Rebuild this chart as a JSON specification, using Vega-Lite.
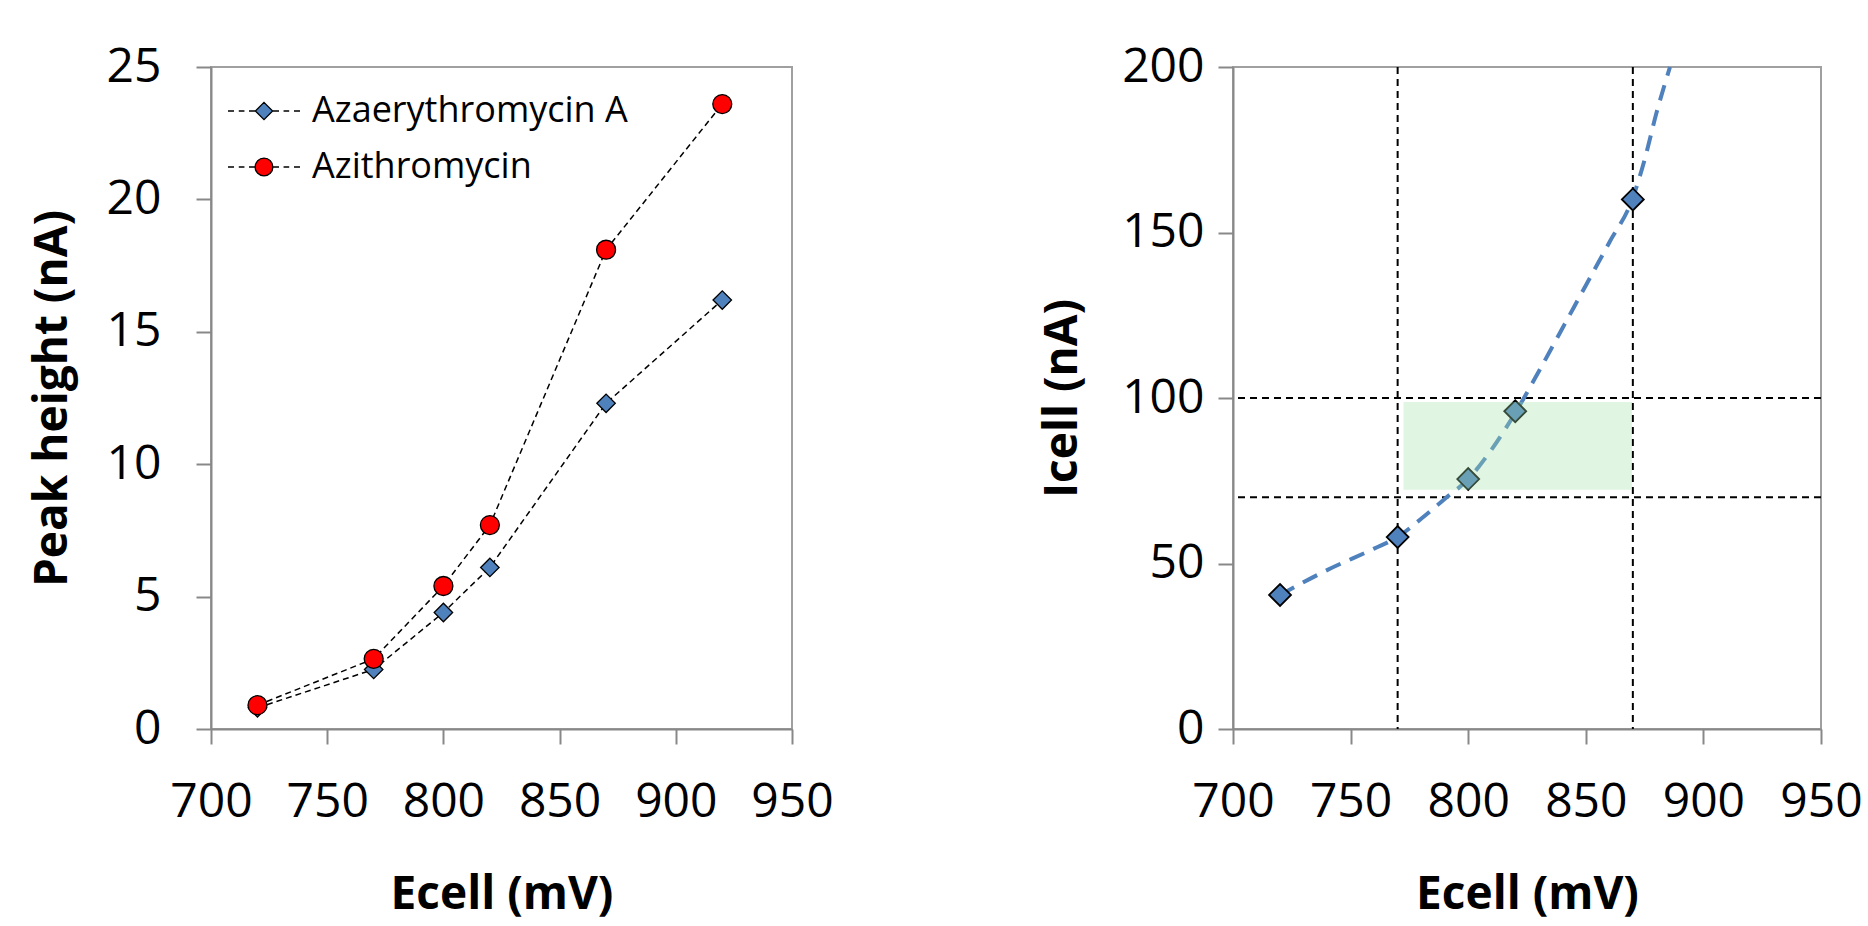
{
  "$schema": "https://vega.github.io/schema/vega-lite/v6.json",
  "background": "white",
  "padding": {"left": 28, "top": 42, "right": 5, "bottom": 5},
  "config": {
    "view": {"stroke": "#a0a0a0", "strokeWidth": 2},
    "axis": {
      "grid": false,
      "domainColor": "#888888", "domainWidth": 2,
      "tickColor": "#888888", "tickWidth": 2, "tickSize": 15,
      "labelFont": "Open Sans", "labelFontSize": 48, "labelColor": "black", "labelOverlap": false, "labelFlush": false,
      "titleFont": "Open Sans", "titleFontWeight": "bold", "titleFontSize": 46, "titleColor": "black"
    }
  },
  "datasets": {
    "left": [
      {"series": "Azaerythromycin A", "ecell": 720, "peak": 0.8},
      {"series": "Azaerythromycin A", "ecell": 770, "peak": 2.25},
      {"series": "Azaerythromycin A", "ecell": 800, "peak": 4.4},
      {"series": "Azaerythromycin A", "ecell": 820, "peak": 6.1},
      {"series": "Azaerythromycin A", "ecell": 870, "peak": 12.3},
      {"series": "Azaerythromycin A", "ecell": 920, "peak": 16.2},
      {"series": "Azithromycin", "ecell": 720, "peak": 0.9},
      {"series": "Azithromycin", "ecell": 770, "peak": 2.65},
      {"series": "Azithromycin", "ecell": 800, "peak": 5.4},
      {"series": "Azithromycin", "ecell": 820, "peak": 7.7},
      {"series": "Azithromycin", "ecell": 870, "peak": 18.1},
      {"series": "Azithromycin", "ecell": 920, "peak": 23.6}
    ],
    "right_pts": [
      {"ecell": 720, "icell": 40.5},
      {"ecell": 770, "icell": 58},
      {"ecell": 800, "icell": 75.5},
      {"ecell": 820, "icell": 96},
      {"ecell": 870, "icell": 160}
    ],
    "curve": [
      {"ecell": 720, "icell": 40.5},
      {"ecell": 740, "icell": 48},
      {"ecell": 760, "icell": 54.5},
      {"ecell": 770, "icell": 58},
      {"ecell": 780, "icell": 63.5},
      {"ecell": 790, "icell": 69.5},
      {"ecell": 800, "icell": 75.5},
      {"ecell": 810, "icell": 84.5},
      {"ecell": 820, "icell": 95.5},
      {"ecell": 830, "icell": 108},
      {"ecell": 840, "icell": 121},
      {"ecell": 850, "icell": 134},
      {"ecell": 860, "icell": 147},
      {"ecell": 870, "icell": 160.5},
      {"ecell": 875, "icell": 172},
      {"ecell": 880, "icell": 186},
      {"ecell": 885.8, "icell": 200}
    ],
    "vrules": [{"ecell": 770}, {"ecell": 870}],
    "hrules": [{"icell": 70}, {"icell": 100}],
    "band": [{"e1": 772.5, "e2": 869.6, "i1": 72.3, "i2": 98.8}]
  },
  "hconcat": [
    {
      "width": 581,
      "height": 662,
      "layer": [
        {
          "data": {"name": "left"},
          "mark": {"type": "line", "color": "black", "strokeWidth": 1.5, "strokeDash": [6, 4]},
          "encoding": {
            "x": {"field": "ecell", "type": "quantitative", "scale": {"domain": [700, 950], "nice": false},
                  "axis": {"values": [700, 750, 800, 850, 900, 950], "title": "Ecell (mV)", "labelPadding": 34, "titlePadding": 46}},
            "y": {"field": "peak", "type": "quantitative", "scale": {"domain": [0, 25], "nice": false},
                  "axis": {"values": [0, 5, 10, 15, 20, 25], "title": "Peak height (nA)", "labelPadding": 35, "titlePadding": 30}},
            "detail": {"field": "series"}
          }
        },
        {
          "data": {"name": "left"},
          "transform": [{"filter": "datum.series === 'Azaerythromycin A'"}],
          "mark": {"type": "point", "shape": "diamond", "filled": true, "fill": "#4F81BD", "stroke": "black", "strokeWidth": 1.3, "size": 340, "opacity": 1},
          "encoding": {
            "x": {"field": "ecell", "type": "quantitative"},
            "y": {"field": "peak", "type": "quantitative"}
          }
        },
        {
          "data": {"name": "left"},
          "transform": [{"filter": "datum.series === 'Azithromycin'"}],
          "mark": {"type": "point", "shape": "circle", "filled": true, "fill": "#FF0000", "stroke": "black", "strokeWidth": 1.3, "size": 360, "opacity": 1},
          "encoding": {
            "x": {"field": "ecell", "type": "quantitative"},
            "y": {"field": "peak", "type": "quantitative"}
          }
        },
        {
          "data": {"name": "left"},
          "transform": [{"filter": "datum.ecell < 0"}],
          "mark": {"type": "point", "filled": true, "strokeWidth": 1.3, "opacity": 1},
          "encoding": {
            "x": {"field": "ecell", "type": "quantitative"},
            "y": {"field": "peak", "type": "quantitative"},
            "shape": {
              "field": "series", "type": "nominal",
              "scale": {
                "domain": ["Azaerythromycin A", "Azithromycin"],
                "range": [
                  "M-3,0L-2.5,0M-2.1,0L-1.63,0M-1.25,0L-0.72,0M0.72,0L1.25,0M1.63,0L2.1,0M2.5,0L3,0M0,-0.72L0.72,0L0,0.72L-0.72,0Z",
                  "M-3,0L-2.5,0M-2.1,0L-1.63,0M-1.25,0L-0.74,0M0.74,0L1.25,0M1.63,0L2.1,0M2.5,0L3,0M-0.74,0A0.74,0.74 0 1,1 0.74,0A0.74,0.74 0 1,1 -0.74,0Z"
                ]
              },
              "legend": {
                "orient": "none", "legendX": 35, "legendY": 26, "title": null, "padding": 0,
                "labelFont": "Open Sans", "labelFontSize": 36, "labelColor": "black", "labelOffset": 30, "labelLimit": 0,
                "symbolSize": 576, "symbolStrokeColor": "black", "symbolStrokeWidth": 1.3, "symbolOpacity": 1,
                "rowPadding": 20
              }
            },
            "fill": {
              "field": "series", "type": "nominal",
              "scale": {"domain": ["Azaerythromycin A", "Azithromycin"], "range": ["#4F81BD", "#FF0000"]},
              "legend": {
                "orient": "none", "legendX": 35, "legendY": 26, "title": null, "padding": 0,
                "labelFont": "Open Sans", "labelFontSize": 36, "labelColor": "black", "labelOffset": 30, "labelLimit": 0,
                "symbolSize": 576, "symbolStrokeColor": "black", "symbolStrokeWidth": 1.3, "symbolOpacity": 1,
                "rowPadding": 20
              }
            },
            "stroke": {
              "field": "series", "type": "nominal",
              "scale": {"domain": ["Azaerythromycin A", "Azithromycin"], "range": ["black", "black"]},
              "legend": {
                "orient": "none", "legendX": 35, "legendY": 26, "title": null, "padding": 0,
                "labelFont": "Open Sans", "labelFontSize": 36, "labelColor": "black", "labelOffset": 30, "labelLimit": 0,
                "symbolSize": 576, "symbolStrokeWidth": 1.3, "symbolOpacity": 1,
                "rowPadding": 20
              }
            }
          }
        }
      ]
    },
    {
      "width": 588,
      "height": 662,
      "layer": [
        {
          "data": {"name": "vrules"},
          "mark": {"type": "rule", "color": "black", "strokeWidth": 2, "strokeDash": [7, 5]},
          "encoding": {
            "x": {"field": "ecell", "type": "quantitative", "scale": {"domain": [700, 950], "nice": false},
                  "axis": {"values": [700, 750, 800, 850, 900, 950], "title": "Ecell (mV)", "labelPadding": 34, "titlePadding": 46}}
          }
        },
        {
          "data": {"name": "hrules"},
          "mark": {"type": "rule", "color": "black", "strokeWidth": 2, "strokeDash": [7, 5]},
          "encoding": {
            "y": {"field": "icell", "type": "quantitative", "scale": {"domain": [0, 200], "nice": false},
                  "axis": {"values": [0, 50, 100, 150, 200], "title": "Icell (nA)", "labelPadding": 14, "titlePadding": 35}}
          }
        },
        {
          "data": {"name": "curve"},
          "mark": {"type": "line", "color": "#4F81BD", "strokeWidth": 4, "strokeDash": [16, 10], "interpolate": "monotone"},
          "encoding": {
            "x": {"field": "ecell", "type": "quantitative"},
            "y": {"field": "icell", "type": "quantitative"}
          }
        },
        {
          "data": {"name": "right_pts"},
          "mark": {"type": "point", "shape": "diamond", "filled": true, "fill": "#4F81BD", "stroke": "black", "strokeWidth": 1.8, "size": 480, "opacity": 1},
          "encoding": {
            "x": {"field": "ecell", "type": "quantitative"},
            "y": {"field": "icell", "type": "quantitative"}
          }
        },
        {
          "data": {"name": "band"},
          "mark": {"type": "rect", "color": "#A1E1A7", "opacity": 0.33},
          "encoding": {
            "x": {"field": "e1", "type": "quantitative"},
            "x2": {"field": "e2"},
            "y": {"field": "i1", "type": "quantitative"},
            "y2": {"field": "i2"}
          }
        }
      ]
    }
  ],
  "spacing": 203
}
